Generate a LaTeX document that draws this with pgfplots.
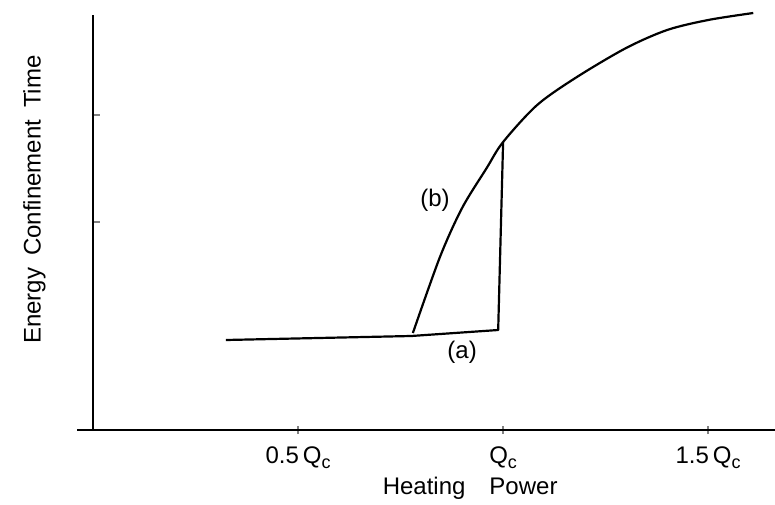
\documentclass[border=0pt]{standalone}
\usepackage{fontspec}
\setmainfont{Liberation Sans}
\usepackage{pgfplots}
\pgfplotsset{compat=1.18}
\newcommand{\Qc}{Q\raisebox{-0.45ex}{\fontsize{9}{10}\selectfont c}}

\begin{document}
\fontsize{12}{14}\selectfont
\begin{tikzpicture}
\useasboundingbox (0,0) rectangle (387.5pt,252pt);
\begin{axis}[
  at={(46.5pt,37pt)}, anchor=south west,
  scale only axis, width=341pt, height=207.5pt,
  xmin=0, xmax=1.663, ymin=0, ymax=415,
  axis x line=bottom, axis y line=left,
  axis line style={-, line width=1.1pt},
  clip=false,
  xtick={0.5,1,1.5},
  xticklabels={0.5\kern2pt\Qc, \Qc, 1.5\kern2pt\Qc},
  ytick={208,315},
  yticklabels={},
  major tick length=4pt,
  tick align=center,
  x tick style={line width=0.8pt},
  y tick style={line width=0.8pt, xshift=1.5pt},
  ticklabel style={font=\fontsize{12}{14}\selectfont},
  xticklabel style={yshift=-2pt},
  xlabel={Heating\quad Power},
  ylabel={Energy\enspace Confinement\enspace Time},
  xlabel style={at={(axis description cs:0.553,-0.14)}, anchor=center},
  ylabel style={at={(axis description cs:-0.086,0.555)}, anchor=center},
  every axis plot/.append style={black, line width=1.1pt, line join=round},
]
% (a): low branch and jump at Qc
\addplot[sharp plot] coordinates {
  (0.324,90) (0.776,94) (0.988,100) (1.0,288)
};
% (b): rising branch
\addplot[smooth, tension=0.5] coordinates {
  (0.780,97) (0.846,173) (0.900,222) (0.960,262) (1.0,288)
  (1.083,325) (1.18,353) (1.3,382) (1.4,400) (1.5,410) (1.61,417)
};
\node at (axis cs:0.834,230) {(b)};
\node at (axis cs:0.9,78) {(a)};
\draw[line width=1.1pt] (rel axis cs:0,0) -- ++(-8pt,0);
\end{axis}
\end{tikzpicture}
\end{document}
